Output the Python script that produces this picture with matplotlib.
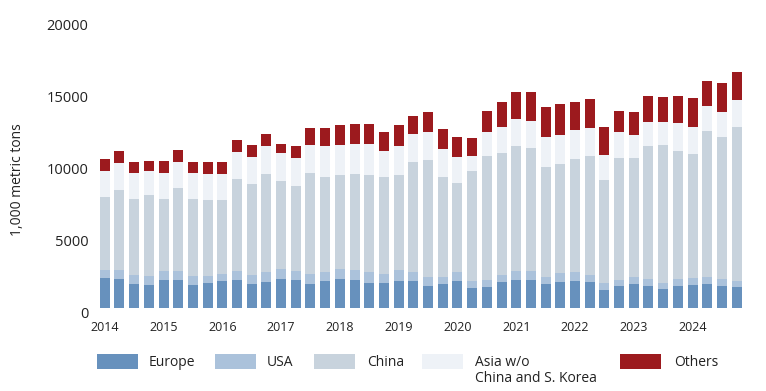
import matplotlib.pyplot as plt
import matplotlib.transforms as mtransforms
from matplotlib.patches import Rectangle

plt.rcParams['font.family'] = ['Open Sans', 'DejaVu Sans']

# quarterly values, 2014 Q1 .. 2024 Q4 (1,000 metric tons)
years = [str(y) for y in range(2014, 2025)]
europe = [2091, 2044, 1649, 1580, 1928, 1975, 1626, 1719, 1905, 1928, 1696,
          1835, 1998, 1928, 1696, 1858, 2021, 1928, 1719, 1766, 1905, 1858,
          1510, 1649, 1905, 1417, 1487, 1789, 1951, 1951, 1649, 1835, 1905,
          1835, 1254, 1556, 1696, 1533, 1348, 1533, 1603, 1673, 1556, 1464]
usa = [534, 581, 627, 650, 674, 581, 581, 488, 488, 627, 627, 650, 743, 674,
       650, 627, 697, 697, 767, 627, 720, 627, 650, 534, 604, 465, 465, 511,
       650, 650, 488, 581, 604, 488, 465, 395, 441, 465, 418, 465, 511, 488,
       465, 418]
china = [5111, 5622, 5297, 5622, 5018, 5831, 5366, 5320, 5111, 6435, 6295,
         6830, 6087, 5924, 7062, 6667, 6528, 6690, 6760, 6737, 6621, 7690,
         8131, 6923, 6180, 7643, 8665, 8479, 8665, 8549, 7713, 7597, 7899,
         8270, 7202, 8526, 8294, 9292, 9594, 8967, 8619, 10175, 9873, 10733]
asia = [1835, 1882, 1858, 1719, 1812, 1766, 1835, 1835, 1858, 1882, 1905,
        1975, 1998, 1951, 1975, 2114, 2137, 2137, 2160, 1835, 2021, 1928,
        1975, 1998, 1858, 1069, 1649, 1858, 1882, 1858, 2044, 2044, 1975,
        1951, 1742, 1789, 1626, 1696, 1580, 1928, 1858, 1766, 1789, 1905]
others = [790, 790, 743, 697, 790, 836, 790, 790, 813, 836, 860, 860, 627,
          836, 1162, 1278, 1394, 1394, 1417, 1278, 1464, 1301, 1371, 1348,
          1348, 1231, 1487, 1719, 1882, 2021, 2137, 2160, 1998, 2021, 1975,
          1464, 1626, 1789, 1789, 1905, 2044, 1742, 2021, 1951]

series = [
    ('Europe', europe, '#6791bd'),
    ('USA', usa, '#abc2db'),
    ('China', china, '#c8d3dd'),
    ('Asia w/o\nChina and S. Korea', asia, '#eef2f7'),
    ('Others', others, '#9c1a1e'),
]

W, H = 766, 391
fig = plt.figure(figsize=(W / 100, H / 100), dpi=100)
ax = fig.add_axes([97.4 / W, 1 - 308 / H, (744 - 97.4) / W, (308 - 21) / H])

x = range(len(europe))
bottom = [0] * len(europe)
for name, vals, color in series:
    ax.bar(x, vals, width=0.68, bottom=bottom, color=color, linewidth=0)
    bottom = [b + v for b, v in zip(bottom, vals)]

ax.set_xlim(-0.5, len(europe) - 0.5)
ax.set_ylim(0, 20000)
ax.set_yticks([0, 5000, 10000, 15000, 20000])
ax.set_xticks(range(0, len(europe), 4))
ax.set_xticklabels(years)
for s in ax.spines.values():
    s.set_visible(False)
ax.tick_params(axis='y', length=0, pad=6.5, labelsize=10.5, labelcolor='#222222')
ax.tick_params(axis='x', length=0, pad=9.5, labelsize=9, labelcolor='#222222')

# y labels sit a few pixels below their value in the reference
shift = mtransforms.ScaledTranslation(0, -4 / 100, fig.dpi_scale_trans)
for lab in ax.get_yticklabels():
    lab.set_transform(lab.get_transform() + shift)

fig.text(18 / W, 1 - 180 / H, '1,000 metric tons', rotation=90,
         ha='center', va='center', fontsize=10, color='#222222')

# legend drawn by hand to keep the reference spacing
patch_x = [97, 215, 314, 422, 620]
text_x = [149, 267, 367, 475, 674]
for (name, vals, color), px, tx in zip(series, patch_x, text_x):
    fig.patches.append(Rectangle((px / W, 1 - 369 / H), 41 / W, 15 / H,
                                 transform=fig.transFigure, facecolor=color,
                                 edgecolor='none'))
    for i, line in enumerate(name.split('\n')):
        fig.text(tx / W, 1 - (366.5 + 15.5 * i) / H, line, ha='left',
                 va='baseline', fontsize=10, color='#222222')

fig.savefig('out.png', dpi=100)
